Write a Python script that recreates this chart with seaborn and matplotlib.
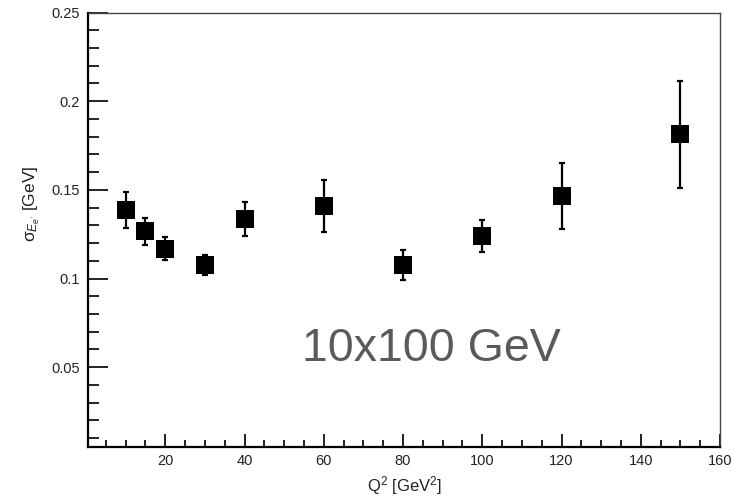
import matplotlib
matplotlib.use("Agg")
import matplotlib.pyplot as plt
import seaborn as sns
import pandas as pd
from matplotlib.ticker import MultipleLocator

q2 = [10, 15, 20, 30, 40, 60, 80, 100, 120, 150]
sigma = [0.1385, 0.1266, 0.1168, 0.1078, 0.1337, 0.1407, 0.1077, 0.1240, 0.1468, 0.1813]
err = [0.0101, 0.0076, 0.0065, 0.0057, 0.0097, 0.0147, 0.0086, 0.0088, 0.0186, 0.0300]

sns.set_style("white")
plt.rcParams['font.family'] = ['Liberation Sans', 'DejaVu Sans']
plt.rcParams['mathtext.fontset'] = 'custom'
plt.rcParams['mathtext.rm'] = 'Liberation Sans'
plt.rcParams['mathtext.it'] = 'Liberation Sans:italic'

df = pd.DataFrame({"q2": q2, "sigma": sigma, "err": err})

fig = plt.figure(figsize=(7.35, 4.99), dpi=100)
ax = fig.add_axes([88/735, 52/499, (720-88)/735, (447-12.5)/499])

ax.errorbar(df["q2"], df["sigma"], yerr=df["err"], fmt="none", ecolor="black",
            elinewidth=1.6, capsize=2, capthick=1.6, zorder=2)
sns.scatterplot(data=df, x="q2", y="sigma", marker="s", s=170, color="black",
                edgecolor="black", linewidth=0, ax=ax, zorder=3)

ax.set_xlim(0.5, 160)
ax.set_ylim(0.005, 0.25)
ax.xaxis.set_major_locator(MultipleLocator(20))
ax.xaxis.set_minor_locator(MultipleLocator(5))
ax.yaxis.set_major_locator(MultipleLocator(0.05))
ax.yaxis.set_minor_locator(MultipleLocator(0.01))

ax.tick_params(axis="y", which="major", direction="in", length=14.4, width=1.4,
               labelsize=10.5, pad=6, left=True, right=False)
ax.tick_params(axis="y", which="minor", direction="in", length=7.9, width=1.4,
               left=True, right=False)
ax.tick_params(axis="x", which="major", direction="in", length=9.4, width=1.4,
               labelsize=10.5, pad=5, bottom=True, top=False)
ax.tick_params(axis="x", which="minor", direction="in", length=5, width=1.4,
               bottom=True, top=False)
ax.tick_params(colors="#222222", which="both")

ax.set_yticks([0.05, 0.1, 0.15, 0.2, 0.25])
ax.set_yticklabels(["0.05", "0.1", "0.15", "0.2", "0.25"])
ax.set_xticks([20, 40, 60, 80, 100, 120, 140, 160])

for s in ["left", "bottom"]:
    ax.spines[s].set_linewidth(1.6)
    ax.spines[s].set_color("black")
for s in ["top", "right"]:
    ax.spines[s].set_linewidth(1.0)
    ax.spines[s].set_color("#444444")

ax.set_xlabel("Q$^{2}$ [GeV$^{2}$]", fontsize=12, color="#222222")
ax.xaxis.set_label_coords(0.5, -0.063)
ax.set_ylabel("σ$_{E_{e'}}$ [GeV]", fontsize=12.5, color="#222222")
ax.yaxis.set_label_coords(-0.072, 0.56)

ax.text(0.544, 0.226, "10x100 GeV", transform=ax.transAxes, fontsize=33.5,
        color="#5a5a5a", ha="center", va="center")

fig.savefig("out.png", dpi=100)
